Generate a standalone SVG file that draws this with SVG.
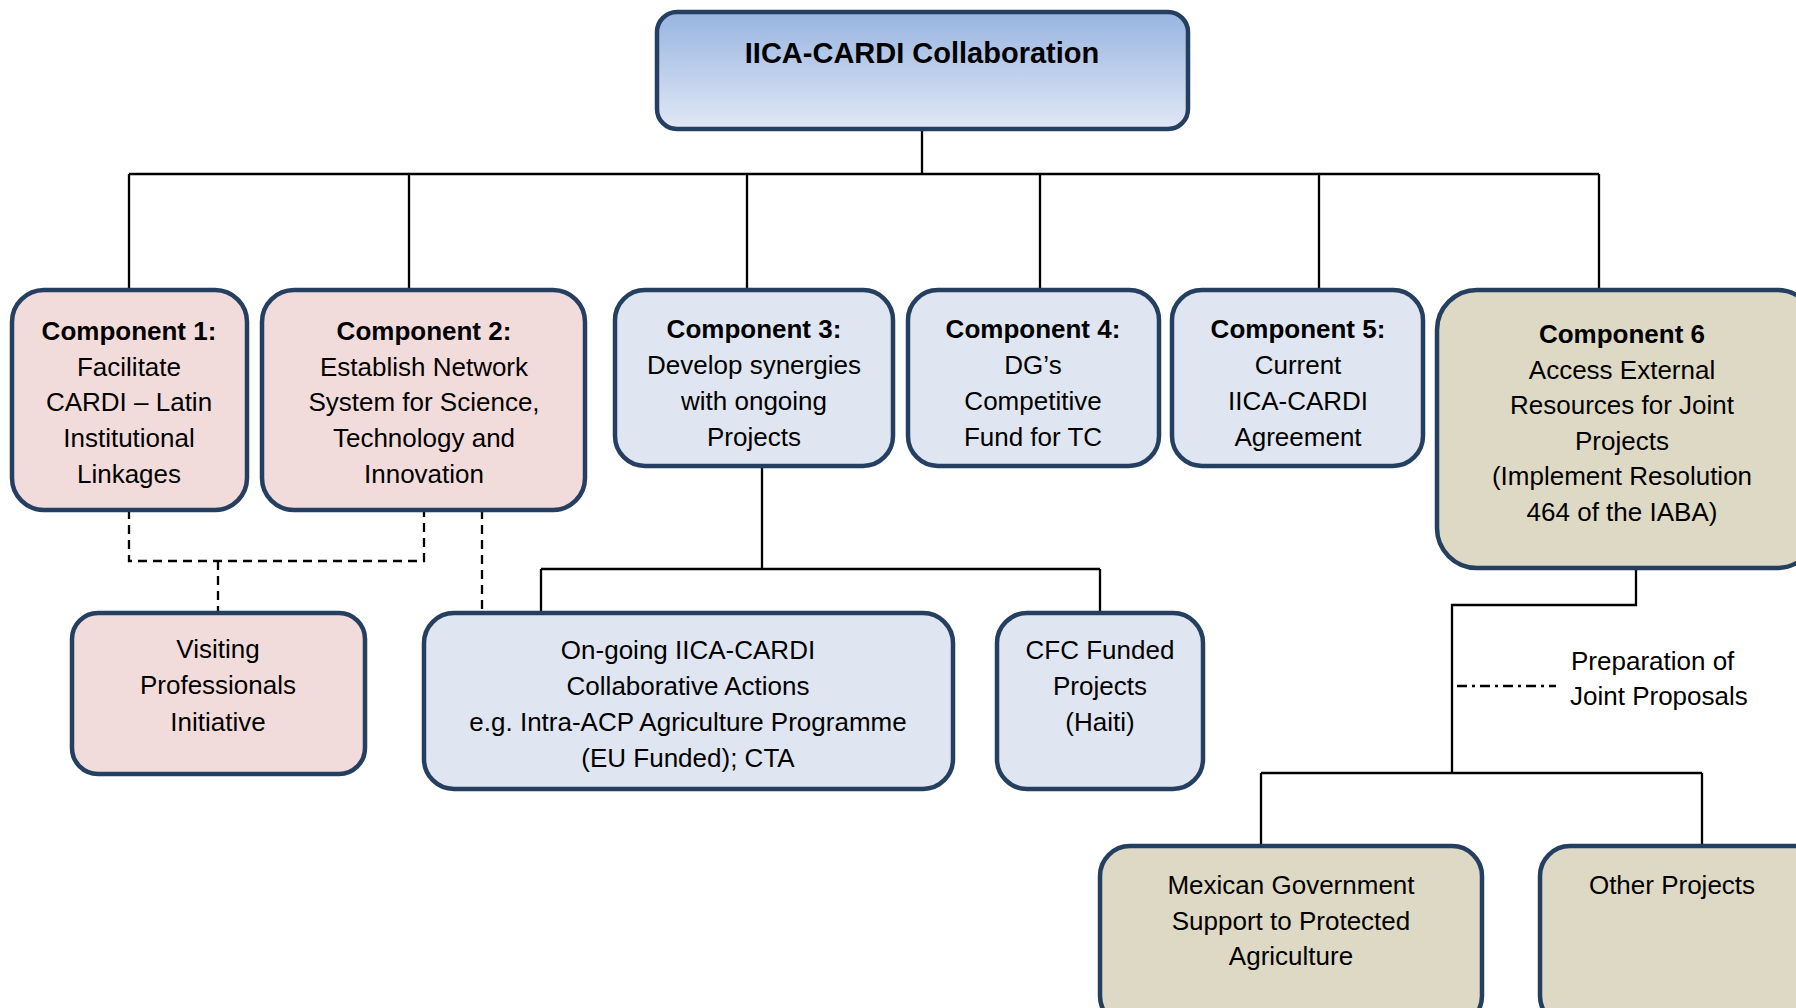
<svg xmlns="http://www.w3.org/2000/svg" width="1796" height="1008" viewBox="0 0 1796 1008">
<defs>
<linearGradient id="gTop" x1="0" y1="0" x2="0" y2="1">
<stop offset="0" stop-color="#98b4e0"/>
<stop offset="1" stop-color="#e1e8f5"/>
</linearGradient>
<style>
.box{stroke:#253f60;stroke-width:4.5}
.pink{fill:#f2dcdb}
.blue{fill:#dfe6f1}
.tan{fill:#ddd9c5}
text{font-family:"Liberation Sans",Arial,sans-serif;font-size:26px;fill:#000;text-anchor:middle}
.b{font-weight:bold}
.t{font-size:29px;font-weight:bold}
.l{text-anchor:start}
.ln{fill:none;stroke:#000;stroke-width:2.3}
.dash{fill:none;stroke:#000;stroke-width:2.3;stroke-dasharray:9 6}
.dd{fill:none;stroke:#000;stroke-width:2.3;stroke-dasharray:10 5 3 5}
</style>
</defs>
<rect width="1796" height="1008" fill="#fff"/>
<g id="connectors">
<path class="ln" d="M922,129 V174 M129,174 H1599 M129,174 V290 M409,174 V290 M747,174 V290 M1040,174 V290 M1319,174 V290 M1599,174 V290"/>
<path class="ln" d="M762,466 V569 M541,569 H1100 M541,569 V613 M1100,569 V613"/>
<path class="dash" d="M129,510 V561 H424 V510 M218,561 V613 M482,510 V613"/>
<path class="ln" d="M1636,568 V605 H1452 V773 M1261,773 H1702 M1261,773 V846 M1702,773 V846"/>
<path class="dd" d="M1457,686 H1556"/>
</g>
<g id="top">
<rect class="box" x="657" y="12" width="531" height="117" rx="20" fill="url(#gTop)"/>
<text class="t" x="922" y="63">IICA-CARDI Collaboration</text>
</g>
<g id="c1">
<rect class="box pink" x="12" y="290" width="235" height="220" rx="32"/>
<text class="b" x="129" y="340">Component 1:</text>
<text x="129" y="376">Facilitate</text>
<text x="129" y="411">CARDI – Latin</text>
<text x="129" y="447">Institutional</text>
<text x="129" y="483">Linkages</text>
</g>
<g id="c2">
<rect class="box pink" x="262" y="290" width="323" height="220" rx="32"/>
<text class="b" x="424" y="340">Component 2:</text>
<text x="424" y="376">Establish Network</text>
<text x="424" y="411">System for Science,</text>
<text x="424" y="447">Technology and</text>
<text x="424" y="483">Innovation</text>
</g>
<g id="c3">
<rect class="box blue" x="615" y="290" width="278" height="176" rx="30"/>
<text class="b" x="754" y="338">Component 3:</text>
<text x="754" y="374">Develop synergies</text>
<text x="754" y="410">with ongoing</text>
<text x="754" y="446">Projects</text>
</g>
<g id="c4">
<rect class="box blue" x="908" y="290" width="251" height="176" rx="30"/>
<text class="b" x="1033" y="338">Component 4:</text>
<text x="1033" y="374">DG’s</text>
<text x="1033" y="410">Competitive</text>
<text x="1033" y="446">Fund for TC</text>
</g>
<g id="c5">
<rect class="box blue" x="1172" y="290" width="251" height="176" rx="30"/>
<text class="b" x="1298" y="338">Component 5:</text>
<text x="1298" y="374">Current</text>
<text x="1298" y="410">IICA-CARDI</text>
<text x="1298" y="446">Agreement</text>
</g>
<g id="c6">
<rect class="box tan" x="1437" y="290" width="380" height="278" rx="40"/>
<text class="b" x="1622" y="343">Component 6</text>
<text x="1622" y="379">Access External</text>
<text x="1622" y="414">Resources for Joint</text>
<text x="1622" y="450">Projects</text>
<text x="1622" y="485">(Implement Resolution</text>
<text x="1622" y="521">464 of the IABA)</text>
</g>
<g id="visiting">
<rect class="box pink" x="72" y="613" width="293" height="161" rx="26"/>
<text x="218" y="658">Visiting</text>
<text x="218" y="694">Professionals</text>
<text x="218" y="731">Initiative</text>
</g>
<g id="ongoing">
<rect class="box blue" x="424" y="613" width="529" height="176" rx="30"/>
<text x="688" y="659">On-going IICA-CARDI</text>
<text x="688" y="695">Collaborative Actions</text>
<text x="688" y="731">e.g. Intra-ACP Agriculture Programme</text>
<text x="688" y="767">(EU Funded); CTA</text>
</g>
<g id="cfc">
<rect class="box blue" x="997" y="613" width="206" height="176" rx="30"/>
<text x="1100" y="659">CFC Funded</text>
<text x="1100" y="695">Projects</text>
<text x="1100" y="731">(Haiti)</text>
</g>
<g id="prep-label">
<text class="l" x="1571" y="670">Preparation of</text>
<text class="l" x="1570" y="705">Joint Proposals</text>
</g>
<g id="mexican">
<rect class="box tan" x="1100" y="846" width="382" height="180" rx="30"/>
<text x="1291" y="894">Mexican Government</text>
<text x="1291" y="930">Support to Protected</text>
<text x="1291" y="965">Agriculture</text>
</g>
<g id="other">
<rect class="box tan" x="1540" y="846" width="290" height="180" rx="30"/>
<text x="1672" y="894">Other Projects</text>
</g>
</svg>
